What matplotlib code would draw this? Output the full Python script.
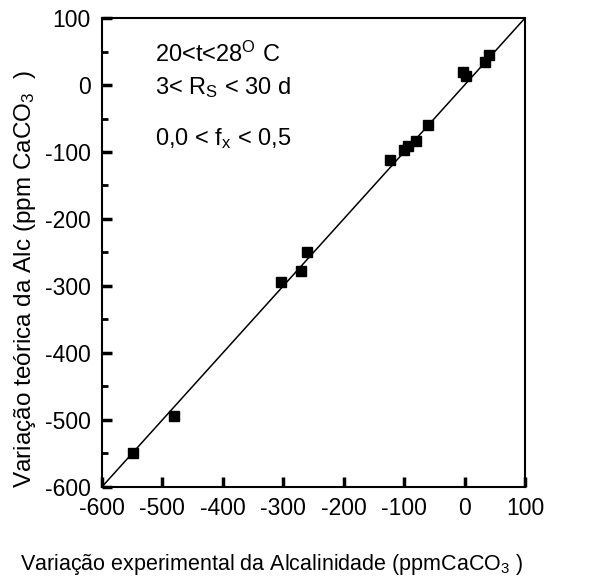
import matplotlib.pyplot as plt
from matplotlib.ticker import MultipleLocator

plt.rcParams['font.family'] = ['Liberation Sans', 'DejaVu Sans']
plt.rcParams['mathtext.fontset'] = 'custom'
plt.rcParams['mathtext.rm'] = 'Liberation Sans'
plt.rcParams['mathtext.it'] = 'Liberation Sans'
plt.rcParams['axes.unicode_minus'] = False

# dados
alc_exp = [-549, -481, -303, -270, -260, -123, -101, -93, -81, -61, -2, 3, 33, 40]
alc_teo = [-549, -495, -294, -277, -249, -112, -97, -91, -83, -60, 19, 13, 34, 45]
linha = [-600, 100]

fig = plt.figure(figsize=(6, 5.83), dpi=100)
ax = fig.add_axes([0.17, 0.165, 0.705, 0.804])

ax.plot(linha, linha, color='black', lw=1.1)
ax.plot(alc_exp, alc_teo, 's', color='black', markersize=7)

ax.set_xlim(-600, 100)
ax.set_ylim(-600, 100)

ax.xaxis.set_major_locator(MultipleLocator(100))
ax.yaxis.set_major_locator(MultipleLocator(100))
ax.yaxis.set_minor_locator(MultipleLocator(50))
ax.tick_params(direction='in', which='major', length=7, width=2.5, labelsize=16.5)
ax.tick_params(axis='x', pad=7)
ax.tick_params(axis='y', pad=8)
ax.tick_params(direction='in', which='minor', length=4, width=2)
ax.tick_params(top=False, right=False)
for s in ax.spines.values():
    s.set_linewidth(1.5)

# textos das condicoes
ax.text(-512, 34, r'20<t<28$^{\rm O}$ C', fontsize=17, va='baseline')
ax.text(-512, -14, r'3< R$_{\rm S}$ < 30 d', fontsize=17, va='baseline')
ax.text(-512, -90, r'0,0 < f$_{\rm x}$ < 0,5', fontsize=17, va='baseline')

fig.text(0.453, 0.022, r'Variação experimental da Alcalinidade (ppmCaCO$_3$ )',
         fontsize=15.5, ha='center', va='baseline')
fig.text(0.042, 0.522, r'Variação teórica da Alc (ppm CaCO$_3$  )',
         fontsize=17.5, rotation=90, ha='center', va='center')

plt.savefig('out.png', dpi=100)
